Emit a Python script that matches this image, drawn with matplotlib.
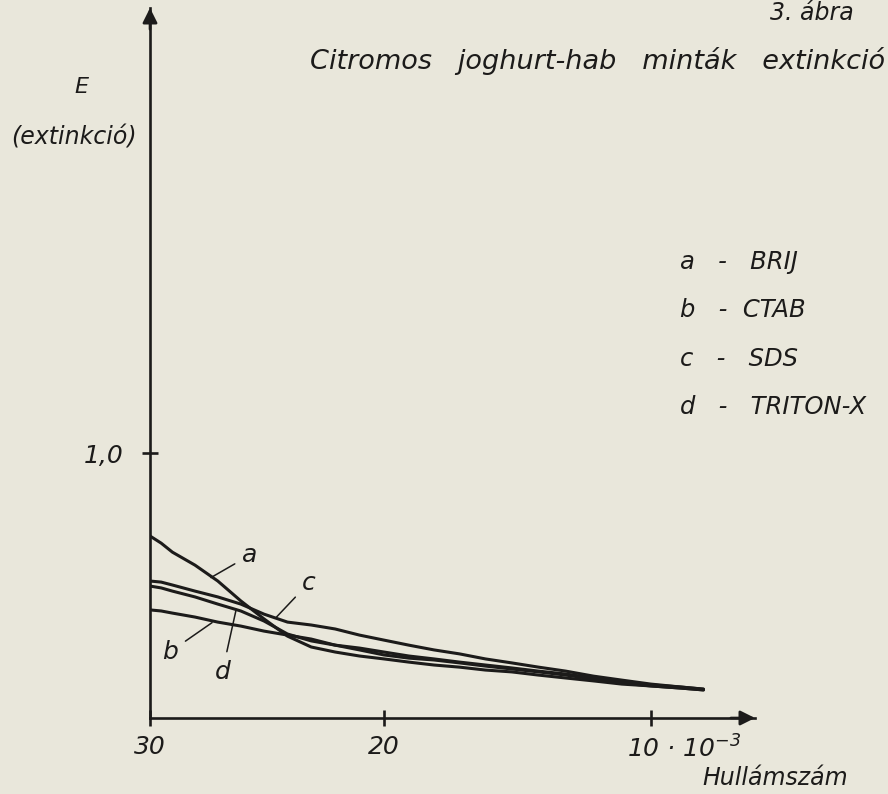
import numpy as np
import matplotlib
matplotlib.use("Agg")
import matplotlib.pyplot as plt
from matplotlib.transforms import ScaledTranslation

WAVENUMBER = [30, 29.5, 29, 28, 27, 26, 25, 24, 23, 22, 21, 20, 19, 18,
              17, 16, 15, 14, 13, 12, 11, 10, 9, 8.25]

# extinction values per surfactant
E_BRIJ = [0.687, 0.660, 0.626, 0.577, 0.517, 0.442, 0.374, 0.309, 0.268, 0.249,
          0.234, 0.223, 0.211, 0.200, 0.192, 0.181, 0.174, 0.162, 0.151, 0.140,
          0.128, 0.121, 0.113, 0.106]
E_CTAB = [0.408, 0.404, 0.396, 0.381, 0.362, 0.347, 0.328, 0.313, 0.298, 0.275,
          0.257, 0.238, 0.226, 0.219, 0.208, 0.196, 0.185, 0.174, 0.162, 0.147,
          0.132, 0.121, 0.113, 0.106]
E_SDS = [0.517, 0.513, 0.502, 0.479, 0.457, 0.430, 0.392, 0.362, 0.351, 0.336,
         0.313, 0.294, 0.275, 0.257, 0.242, 0.223, 0.208, 0.192, 0.177, 0.158,
         0.143, 0.128, 0.117, 0.109]
E_TRITON = [0.498, 0.491, 0.479, 0.457, 0.430, 0.404, 0.366, 0.317, 0.291, 0.275,
            0.264, 0.249, 0.234, 0.223, 0.211, 0.200, 0.189, 0.177, 0.166, 0.151,
            0.136, 0.125, 0.117, 0.109]

X_TICKS = [30, 20, 10]
X_TICK_LABELS = ["30", "20", r"10 · 10$^{-3}$"]
Y_TICKS = [1.0]
Y_TICK_LABELS = ["1,0"]

LEGEND = ["a   -   BRIJ", "b   -  CTAB", "c   -   SDS", "d   -   TRITON-X"]

PAPER = "#e9e7db"
INK = "#1c1b1a"


def fwd(x):
    return np.power(np.abs(x), 0.75)


def inv(y):
    return np.power(np.abs(y), 4.0 / 3.0)


def main() -> None:
    plt.rcParams["font.family"] = ["DejaVu Sans"]
    plt.rcParams["font.style"] = "oblique"
    plt.rcParams["mathtext.fontset"] = "dejavusans"
    plt.rcParams["mathtext.default"] = "it"

    fig = plt.figure(figsize=(8.88, 7.94), dpi=100, facecolor=PAPER)
    ax = fig.add_axes([150 / 888, 1 - 718 / 794, 605 / 888, 710 / 794])
    ax.set_facecolor(PAPER)

    ax.set_xscale("function", functions=(fwd, inv))
    ax.set_xlim(30, 6.62)
    ax.set_ylim(0, 2.68)

    for values in (E_BRIJ, E_CTAB, E_SDS, E_TRITON):
        ax.plot(WAVENUMBER, values, color=INK, lw=2.2, solid_capstyle="round",
                solid_joinstyle="round")

    for side in ("top", "right"):
        ax.spines[side].set_visible(False)
    for side in ("left", "bottom"):
        ax.spines[side].set_linewidth(1.9)
        ax.spines[side].set_color(INK)

    # arrow heads on the axes
    ax.annotate("", xy=(0, 1.0), xytext=(0, 0.97), xycoords="axes fraction",
                arrowprops=dict(arrowstyle="-|>", mutation_scale=22, color=INK, lw=1.9,
                                shrinkA=0, shrinkB=0))
    ax.annotate("", xy=(1.0, 0), xytext=(0.96, 0), xycoords="axes fraction",
                arrowprops=dict(arrowstyle="-|>", mutation_scale=22, color=INK, lw=1.9,
                                shrinkA=0, shrinkB=0))

    ax.set_xticks(X_TICKS)
    ax.set_xticks([], minor=True)
    ax.set_xticklabels(X_TICK_LABELS)
    ax.set_yticks(Y_TICKS)
    ax.set_yticklabels(Y_TICK_LABELS)
    ax.tick_params(axis="x", direction="inout", length=11, width=1.9, color=INK,
                   labelsize=18, pad=7, labelcolor=INK)
    ax.tick_params(axis="y", direction="inout", length=12, width=1.9, color=INK,
                   labelsize=18, pad=13, labelcolor=INK)
    last = ax.get_xticklabels()[-1]
    last.set_transform(last.get_transform() + ScaledTranslation(0.33, 0, fig.dpi_scale_trans))

    # curve labels with leader lines
    leaders = [
        ("a", (27.3, 0.53), (25.6, 0.615)),
        ("b", (27.25, 0.36), (29.1, 0.25)),
        ("c", (24.5, 0.378), (23.1, 0.51)),
        ("d", (26.2, 0.41), (26.8, 0.174)),
    ]
    for name, xy, xytext in leaders:
        ax.annotate(name, xy=xy, xytext=xytext, fontsize=18, color=INK,
                    ha="center", va="center",
                    arrowprops=dict(arrowstyle="-", color=INK, lw=1.1,
                                    shrinkA=4, shrinkB=0))

    fig.text(0.914, 0.984, "3. ábra", fontsize=17, color=INK, ha="center", va="center")
    fig.text(0.997, 0.923, "Citromos   joghurt-hab   minták   extinkció", fontsize=19.5,
             color=INK, ha="right", va="center")
    fig.text(0.092, 0.890, "E", fontsize=16, color=INK, ha="center", va="center")
    fig.text(0.083, 0.827, "(extinkció)", fontsize=17, color=INK, ha="center", va="center")
    fig.text(0.873, 0.020, "Hullámszám", fontsize=17, color=INK, ha="center", va="center")

    for i, entry in enumerate(LEGEND):
        fig.text(0.766, 0.670 - i * 0.0608, entry, fontsize=17.5, color=INK,
                 ha="left", va="center")

    fig.savefig("out.png", dpi=100, facecolor=PAPER)
    plt.close(fig)


if __name__ == "__main__":
    main()
